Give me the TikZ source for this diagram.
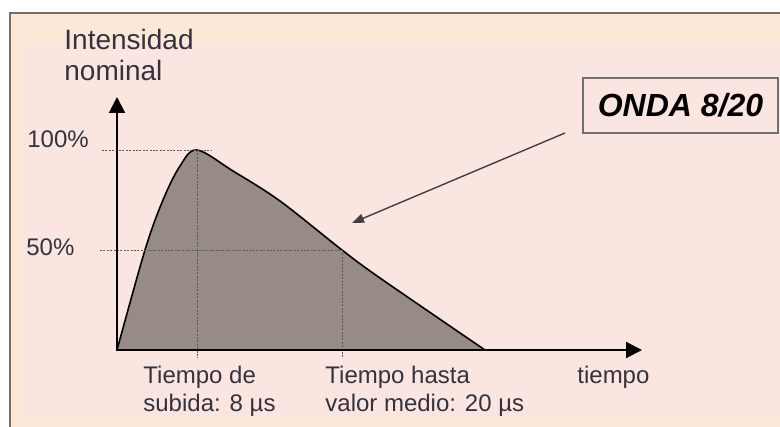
\documentclass[tikz,border=0pt]{standalone}
\usepackage{fontspec}
\setmainfont{Liberation Sans}
\usetikzlibrary{arrows.meta}
\definecolor{peach}{HTML}{FDE8D7}
\definecolor{rosa}{HTML}{FBE5E0}
\definecolor{ondafill}{HTML}{978B88}
\definecolor{texto}{HTML}{333340}
\definecolor{marco}{HTML}{707070}

\begin{document}
\begin{tikzpicture}[x=0.5pt,y=-0.5pt,
    lbl/.style={inner sep=0pt, anchor=base west, align=left, text=texto,
      font=\fontsize{12}{14}\selectfont},
    guia/.style={draw=black!65, line width=0.45pt, dash pattern=on 1pt off 0.7pt},
    eje/.style={line width=1pt, -{Triangle[length=8pt,width=8pt]}}]
  \useasboundingbox (0,0) rectangle (780,427);
  \fill[white] (0,0) rectangle (780,427);
  \fill[peach] (10,13) rectangle (780,427);
  \fill[rosa] (22,45) rectangle (780,417);
  \draw[marco, line width=1pt] (10,427) -- (10,13) -- (780,13);

  % puntos de la onda
  \coordinate (O) at (117,350);
  \coordinate (ejey) at (117,97);
  \coordinate (ejex) at (642,350);
  \coordinate (pico) at (197,150);
  \coordinate (medio) at (342,250);

  % onda 8/20
  \draw[fill=ondafill, line width=0.8pt] (O) -- plot[smooth, tension=0.55] coordinates
    {(117,350) (145,250) (163,200) (180,166) (197,150) (233,171) (280,201)
     (342,250) (380,278) (485,350)} -- cycle;

  % lineas de referencia
  \draw[guia] (102,150) -- (211,150);
  \draw[guia] (100,250) -- (medio);
  \draw[guia] (pico) -- (197,358);
  \draw[guia] (medio) -- (342,357);

  \draw[eje] (O) -- (ejey);
  \draw[eje] (O) -- (ejex);

  \node[lbl, font=\fontsize{14}{15.5}\selectfont] (inom) at (64,81) {Intensidad\\nominal};
  \node[lbl] (cien) at (27,148) {100\%};
  \node[lbl] (cinc) at (26,255) {50\%};
  \node[lbl] (subida) at (143,411) {Tiempo de\\subida: 8 µs};
  \node[lbl] (valor) at (325,411) {Tiempo hasta\\valor medio: 20 µs};
  \node[lbl] (tiempo) at (577,383) {tiempo};

  \node[draw=marco, line width=0.8pt, minimum width=97.5pt, minimum height=27.5pt,
    inner sep=0pt, text=black, font=\fontsize{16}{18}\selectfont\bfseries\itshape]
    (onda) at (680.5,105.5) {ONDA 8/20};
  \coordinate (desde) at (565,133);
  \coordinate (hasta) at (352,223);
  \draw[black!75, line width=0.7pt, -{Triangle[length=6pt,width=4.5pt]}] (desde) -- (hasta);
\end{tikzpicture}
\end{document}
